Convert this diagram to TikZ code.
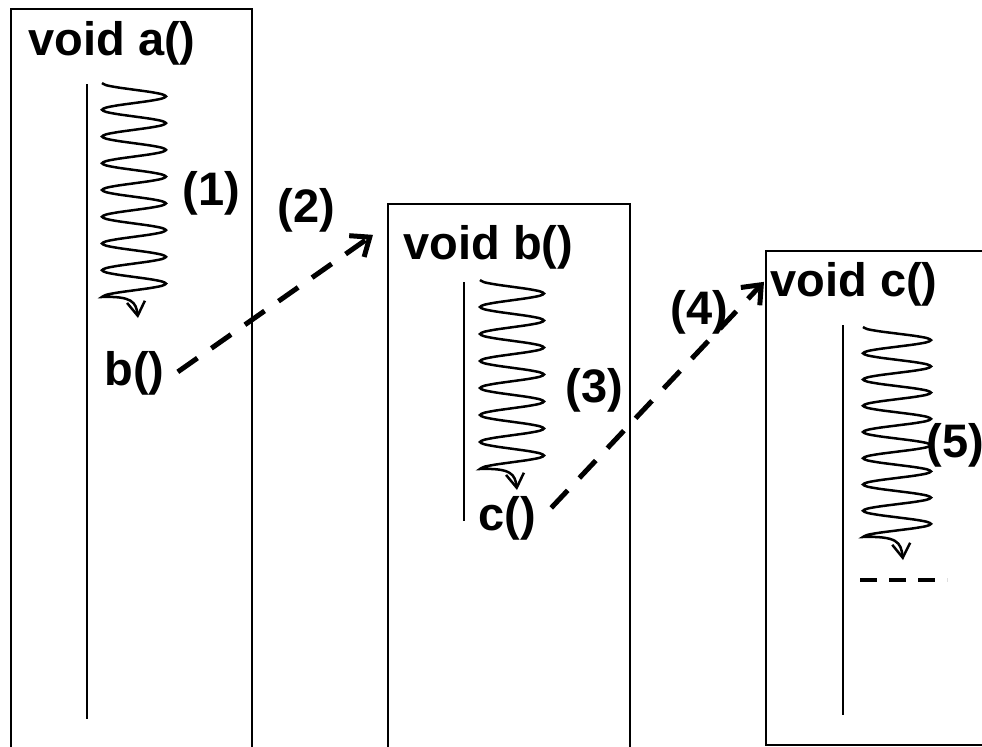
\documentclass[tikz,border=0pt]{standalone}
\usepackage{fontspec}
\setmainfont{Liberation Sans}
\usetikzlibrary{arrows.meta}

\begin{document}
\begin{tikzpicture}[x=0.5pt,y=-0.5pt,
  lbl/.style={font=\fontsize{23.5}{28}\selectfont\bfseries, inner sep=0pt, anchor=base west},
  frame/.style={line width=1.2pt},
  flow/.style={line width=1.25pt, -{Straight Barb[length=7pt,width=9pt]}},
  call/.style={line width=2.5pt, dash pattern=on 12pt off 8.5pt, -{Straight Barb[length=8pt,width=13pt]}}]
\useasboundingbox (0,0) rectangle (982,746);

% function frames
\draw[frame] (11,760) |- (252,9) -- (252,760);
\draw[frame] (388,760) |- (630,204) -- (630,760);
\draw[frame] (995,251) -| (766,745) -- (995,745);

% time lines
\draw[frame] (87,84) -- (87,719);
\draw[frame] (464,282) -- (464,521);
\draw[frame] (843,325) -- (843,715);

% execution
\draw[flow] plot[smooth, samples=97, domain=0:8] ({134-32*cos(360*\x)}, {83+26.75*\x})
  .. controls (132,296) and (136,302) .. (138,318);
\draw[flow] plot[smooth, samples=85, domain=0:7] ({512-32*cos(360*\x)}, {280+27*\x})
  .. controls (511,468) and (515,474) .. (517,490);
\draw[flow] plot[smooth, samples=97, domain=0:8] ({897-34*cos(360*\x)}, {327+26.25*\x})
  .. controls (897,536) and (901,542) .. (903,560);
\draw[line width=2pt, dash pattern=on 8.5pt off 6pt] (860,580) -- (947,580);

% labels
\node[lbl] (ta) at (28,55) {void a()};
\node[lbl] (tb) at (403,259) {void b()};
\node[lbl] (tc) at (770,296) {void c()};
\node[lbl] (callb) at (104,385) {b()};
\node[lbl] (callc) at (478,530) {c()};
\node[lbl] (s1) at (182,205) {(1)};
\node[lbl] (s2) at (277,222) {(2)};
\node[lbl] (s3) at (565,402) {(3)};
\node[lbl] (s4) at (670,324) {(4)};
\node[lbl] (s5) at (926,457) {(5)};

% calls
\draw[call] ([shift={(13,-1)}]callb.east) -- ([shift={(-30,-12)}]tb.west);
\draw[call] ([shift={(15,-10)}]callc.east) -- ([shift={(-6,-2)}]tc.west);
\end{tikzpicture}
\end{document}
